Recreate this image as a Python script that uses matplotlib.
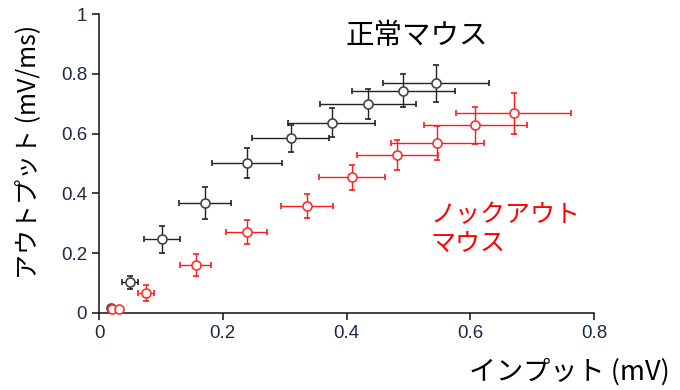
import matplotlib
matplotlib.use("Agg")
import matplotlib.pyplot as plt
from matplotlib.ticker import FixedLocator, FuncFormatter

plt.rcParams['font.family'] = ['Noto Sans CJK JP', 'DejaVu Sans']

# Normal mouse (正常マウス)
wt_x = [0.019, 0.050, 0.102, 0.172, 0.239, 0.310, 0.376, 0.435, 0.492, 0.545]
wt_y = [0.015, 0.102, 0.246, 0.367, 0.501, 0.584, 0.636, 0.698, 0.743, 0.769]
wt_xerr = [0.004, 0.0125, 0.0286, 0.042, 0.056, 0.062, 0.0706, 0.078, 0.083, 0.086]
wt_yerr = [0.004, 0.022, 0.046, 0.054, 0.050, 0.046, 0.0485, 0.050, 0.055, 0.062]

# Knockout mouse (ノックアウトマウス)
ko_x = [0.021, 0.033, 0.076, 0.156, 0.239, 0.336, 0.409, 0.482, 0.547, 0.608, 0.670]
ko_y = [0.011, 0.011, 0.066, 0.160, 0.271, 0.357, 0.453, 0.529, 0.569, 0.627, 0.668]
ko_xerr = [0.003, 0.003, 0.0124, 0.0256, 0.033, 0.042, 0.053, 0.0655, 0.075, 0.083, 0.093]
ko_yerr = [0.003, 0.003, 0.026, 0.037, 0.040, 0.041, 0.042, 0.050, 0.057, 0.062, 0.068]

x_ticks = [0, 0.2, 0.4, 0.6, 0.8]
y_ticks = [0, 0.2, 0.4, 0.6, 0.8, 1.0]

fig = plt.figure(figsize=(6.8, 3.9), dpi=100)
ax = fig.add_axes([0.1456, 0.198, 0.728, 0.766])

ax.errorbar(wt_x, wt_y, xerr=wt_xerr, yerr=wt_yerr, fmt='o', ms=6.5,
            mfc='white', mec='#444444', mew=1.2, ecolor='#222222',
            elinewidth=1.0, capsize=2.5, capthick=1.0, zorder=3, clip_on=False)
ax.errorbar(ko_x, ko_y, xerr=ko_xerr, yerr=ko_yerr, fmt='o', ms=6.5,
            mfc='white', mec='#ff3030', mew=1.2, ecolor='#ff1a1a',
            elinewidth=1.0, capsize=2.5, capthick=1.0, zorder=3, clip_on=False)

ax.set_xlim(0, 0.8)
ax.set_ylim(0, 1.0)
ax.xaxis.set_major_locator(FixedLocator(x_ticks))
ax.yaxis.set_major_locator(FixedLocator(y_ticks))
fmt = FuncFormatter(lambda v, p: '0' if v == 0 else ('1' if v == 1 else f'{v:.1f}'))
ax.xaxis.set_major_formatter(fmt)
ax.yaxis.set_major_formatter(fmt)

for s in ['top', 'right']:
    ax.spines[s].set_visible(False)
for s in ['left', 'bottom']:
    ax.spines[s].set_linewidth(1.1)
    ax.spines[s].set_color('#111111')
ax.tick_params(direction='out', length=5, width=1.1, colors='#111111',
               labelsize=13.5, labelcolor='#1c2a48',
               labelfontfamily='Liberation Sans')

fig.text(0.042, 0.61, 'アウトプット (mV/ms)', rotation=90, ha='center', va='center',
         fontsize=18, color='black')
fig.text(0.985, 0.046, 'インプット (mV)', ha='right', va='center',
         fontsize=19.5, color='black')

ax.text(0.498, 0.925, '正常マウス', ha='left', va='center', fontsize=20.5,
        color='black', transform=ax.transAxes)
ax.text(0.669, 0.28, 'ノックアウト\nマウス', ha='left', va='center', fontsize=18,
        color='#ff0000', linespacing=1.15, transform=ax.transAxes)

fig.savefig('out.png', dpi=100)
